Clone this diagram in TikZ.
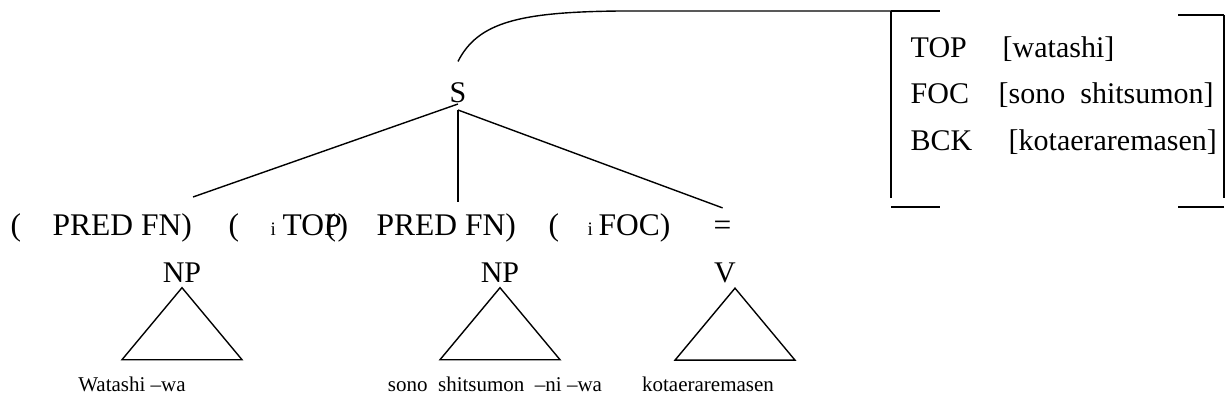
\documentclass[tikz,border=0pt]{standalone}
\usepackage{fontspec}
\setmainfont{Liberation Serif}
\usetikzlibrary{positioning}

\newcommand{\fsz}[1]{\fontsize{#1}{#1}\selectfont}

\tikzset{
	rowtext/.style={anchor=base west, inner sep=0pt, font=\fsz{31.5}},
	subi/.style={anchor=base west, inner sep=0pt, font=\fsz{19}},
	cat/.style={anchor=base, inner sep=0pt, font=\fsz{30}},
	word/.style={anchor=base, inner sep=0pt, font=\fsz{21}},
	avm/.style={anchor=base west, inner sep=0pt, font=\fsz{30}},
}

\begin{document}
\begin{tikzpicture}[x=1pt,y=-1pt,line width=1.4pt]
		\useasboundingbox (0,0) rectangle (1226,409);
		% root and its daughters
		\node[cat] (s) at (458,103) {S};
		\coordinate (sfoot) at ([yshift=-6pt]s.south);
		\node[rowtext] (lpa) at (10,235) {(};
		\node[rowtext] (preda) at (52,235) {PRED FN)};
		\node[rowtext] (lpb) at (228,235) {(};
		\node[subi] (ia) at (270,235) {i};
		\node[rowtext] (topb) at (282,235) {TOP};
		\node[rowtext] (lpc) at (325,235) {(};
		\node[rowtext] (rpb) at (337,235) {)};
		\node[rowtext] (predc) at (376,235) {PRED FN)};
		\node[rowtext] (lpd) at (548,235) {(};
		\node[subi] (ib) at (587,235) {i};
		\node[rowtext] (focd) at (598,235) {FOC)};
		\node[rowtext] (eq) at (713,235) {=};
		\coordinate (ea) at (193,197);
		\coordinate (eb) at (458,202);
		\coordinate (ec) at ([yshift=12pt]eq.north);
		\draw (s.south) -- (ea);
		\draw (sfoot) -- (eb);
		\draw (sfoot) -- (ec);
		% categories with their triangles
		\node[cat] (npa) at (182,282) {NP};
		\node[cat] (npb) at (500,282) {NP};
		\node[cat] (v) at (725,282) {V};
		\draw ([yshift=-5pt]npa.south) -- ++(-60,72) -- ++(120,0) -- cycle;
		\draw ([yshift=-5pt]npb.south) -- ++(-60,72) -- ++(120,0) -- cycle;
		\draw ([xshift=10pt,yshift=-5pt]v.south) -- ++(-60,72) -- ++(120,0) -- cycle;
		\node[word] (wa) at (132,391) {Watashi –wa};
		\node[word] (wb) at (495,391) {sono\ \ shitsumon\ \ –ni –wa};
		\node[word] (wc) at (708,391) {kotaeraremasen};
		% f-structure box
		\coordinate (fl) at (891,11);
		\coordinate (fr) at (1224,15);
		\draw ([yshift=21pt]s.north) .. controls (478,22) and (520,12) .. (620,11) -- (fl);
		\draw (fl) -- ++(49,0);
		\draw (fl) -- (891,198);
		\draw (891,207) -- ++(49,0);
		\draw (fr) -- ++(-46,0);
		\draw (fr) -- (1224,198);
		\draw (1224,207) -- ++(-46,0);
		\node[avm] (top) at (910,58) {TOP};
		\node[avm] (topv) at (1002,58) {[watashi]};
		\node[avm] (foc) at (910,104) {FOC};
		\node[avm] (focv) at (998,104) {[sono\ \ shitsumon]};
		\node[avm] (bck) at (910,150) {BCK};
		\node[avm] (bckv) at (1008,150) {[kotaeraremasen]};
	\end{tikzpicture}
\end{document}
